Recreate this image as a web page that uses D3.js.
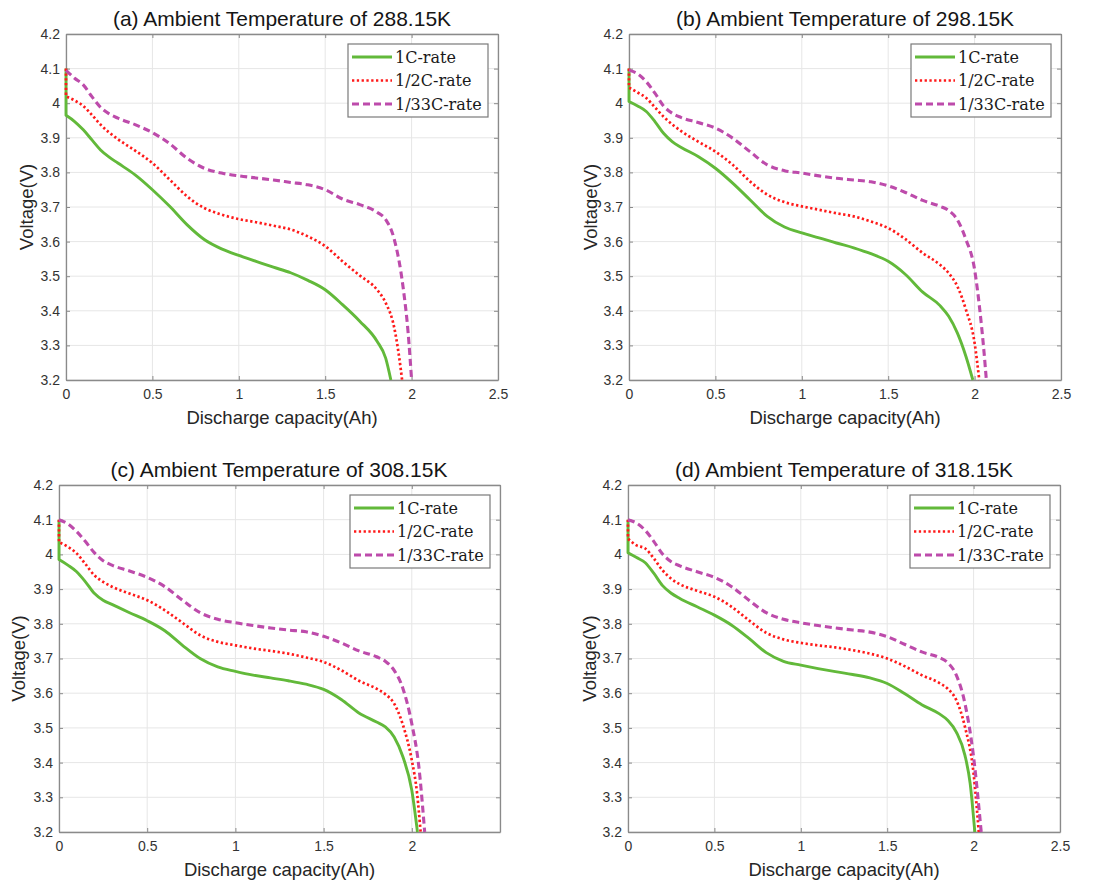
<!DOCTYPE html>
<html><head><meta charset="utf-8">
<script src="https://cdn.jsdelivr.net/npm/d3@7"></script>
<style>
html,body{margin:0;padding:0;background:#fff;}
svg{display:block;}
</style></head>
<body>
<script>
// ---------- DATA ----------
const xTicks = [0, 0.5, 1, 1.5, 2, 2.5];
const yTicks = [3.2, 3.3, 3.4, 3.5, 3.6, 3.7, 3.8, 3.9, 4.0, 4.1, 4.2];
const seriesNames = ["1C-rate", "1/2C-rate", "1/33C-rate"];
const panelTitles = [
  "(a) Ambient Temperature of 288.15K",
  "(b) Ambient Temperature of 298.15K",
  "(c) Ambient Temperature of 308.15K",
  "(d) Ambient Temperature of 318.15K"
];

// [discharge capacity (Ah), voltage (V)]
const a_1C = [[0,4.1],[0,3.965],[0.05,3.947],[0.1,3.923],[0.15,3.894],[0.2,3.865],[0.25,3.844],[0.3,3.827],[0.4,3.793],[0.5,3.75],[0.6,3.702],[0.7,3.649],[0.8,3.606],[0.9,3.579],[1.0,3.56],[1.1,3.543],[1.2,3.526],[1.3,3.51],[1.4,3.488],[1.5,3.461],[1.6,3.418],[1.7,3.37],[1.8,3.312],[1.85,3.263],[1.88,3.2]];
const a_half = [[0,4.1],[0,4.02],[0.05,4.008],[0.1,3.992],[0.15,3.966],[0.2,3.938],[0.3,3.896],[0.4,3.863],[0.5,3.827],[0.6,3.779],[0.7,3.731],[0.8,3.697],[0.9,3.678],[1.0,3.665],[1.1,3.656],[1.2,3.646],[1.3,3.635],[1.4,3.615],[1.5,3.587],[1.6,3.543],[1.7,3.502],[1.8,3.461],[1.85,3.423],[1.9,3.35],[1.93,3.259],[1.945,3.2]];
const a_33 = [[0,4.095],[0.05,4.072],[0.1,4.053],[0.15,4.019],[0.2,3.988],[0.25,3.969],[0.3,3.957],[0.4,3.938],[0.5,3.915],[0.6,3.883],[0.7,3.841],[0.8,3.812],[0.9,3.798],[1.0,3.79],[1.1,3.784],[1.2,3.778],[1.3,3.771],[1.4,3.764],[1.5,3.75],[1.6,3.723],[1.7,3.707],[1.8,3.685],[1.85,3.664],[1.9,3.606],[1.95,3.471],[1.98,3.336],[2.0,3.2]];

const b_1C = [[0,4.1],[0,4.005],[0.05,3.992],[0.1,3.976],[0.15,3.947],[0.2,3.913],[0.25,3.889],[0.3,3.873],[0.4,3.846],[0.5,3.812],[0.6,3.769],[0.7,3.721],[0.8,3.673],[0.9,3.642],[1.0,3.625],[1.1,3.611],[1.2,3.596],[1.3,3.582],[1.4,3.565],[1.5,3.543],[1.6,3.505],[1.7,3.454],[1.8,3.415],[1.85,3.384],[1.9,3.336],[1.95,3.268],[1.99,3.2]];
const b_half = [[0,4.1],[0,4.045],[0.05,4.031],[0.1,4.015],[0.15,3.988],[0.2,3.961],[0.3,3.92],[0.4,3.889],[0.5,3.86],[0.6,3.822],[0.7,3.774],[0.8,3.736],[0.9,3.714],[1.0,3.702],[1.1,3.692],[1.2,3.682],[1.3,3.673],[1.4,3.658],[1.5,3.639],[1.6,3.607],[1.7,3.567],[1.8,3.533],[1.85,3.509],[1.9,3.471],[1.95,3.403],[2.0,3.307],[2.027,3.2]];
const b_33 = [[0,4.095],[0.05,4.085],[0.1,4.062],[0.15,4.029],[0.2,3.992],[0.25,3.971],[0.3,3.959],[0.4,3.944],[0.5,3.928],[0.6,3.899],[0.7,3.86],[0.8,3.822],[0.9,3.805],[1.0,3.798],[1.1,3.79],[1.2,3.783],[1.3,3.778],[1.4,3.773],[1.5,3.761],[1.6,3.742],[1.7,3.719],[1.8,3.702],[1.85,3.69],[1.9,3.663],[1.95,3.606],[2.0,3.519],[2.03,3.403],[2.055,3.278],[2.068,3.2]];

const c_1C = [[0,4.1],[0,3.985],[0.05,3.969],[0.1,3.95],[0.15,3.921],[0.2,3.888],[0.25,3.868],[0.3,3.856],[0.4,3.832],[0.5,3.809],[0.6,3.78],[0.7,3.738],[0.8,3.7],[0.9,3.676],[1.0,3.663],[1.1,3.652],[1.2,3.644],[1.3,3.636],[1.4,3.626],[1.5,3.611],[1.6,3.582],[1.7,3.543],[1.8,3.517],[1.85,3.503],[1.9,3.474],[1.95,3.416],[2.0,3.32],[2.032,3.2]];
const c_half = [[0,4.1],[0,4.035],[0.05,4.022],[0.1,4.003],[0.15,3.972],[0.2,3.94],[0.25,3.921],[0.3,3.907],[0.4,3.887],[0.5,3.868],[0.6,3.839],[0.7,3.803],[0.8,3.767],[0.9,3.748],[1.0,3.738],[1.1,3.729],[1.2,3.722],[1.3,3.714],[1.4,3.703],[1.5,3.69],[1.6,3.666],[1.7,3.636],[1.8,3.613],[1.85,3.597],[1.9,3.57],[1.95,3.508],[2.0,3.407],[2.03,3.311],[2.05,3.2]];
const c_33 = [[0,4.1],[0.05,4.088],[0.1,4.066],[0.15,4.037],[0.2,4.005],[0.25,3.982],[0.3,3.969],[0.4,3.952],[0.5,3.934],[0.6,3.907],[0.7,3.868],[0.8,3.832],[0.9,3.813],[1.0,3.803],[1.1,3.795],[1.2,3.788],[1.3,3.782],[1.4,3.777],[1.5,3.764],[1.6,3.745],[1.7,3.722],[1.8,3.705],[1.85,3.692],[1.9,3.666],[1.95,3.613],[2.0,3.512],[2.04,3.388],[2.073,3.2]];

const d_1C = [[0,4.1],[0,4.005],[0.05,3.991],[0.1,3.976],[0.15,3.945],[0.2,3.91],[0.25,3.888],[0.3,3.873],[0.4,3.849],[0.5,3.825],[0.6,3.796],[0.7,3.758],[0.8,3.717],[0.9,3.692],[1.0,3.681],[1.1,3.671],[1.2,3.662],[1.3,3.654],[1.4,3.644],[1.5,3.628],[1.6,3.599],[1.7,3.567],[1.8,3.541],[1.85,3.522],[1.9,3.488],[1.95,3.421],[1.98,3.34],[2.007,3.2]];
const d_half = [[0,4.1],[0,4.045],[0.05,4.026],[0.1,4.017],[0.15,3.988],[0.2,3.954],[0.25,3.93],[0.3,3.914],[0.4,3.895],[0.5,3.878],[0.6,3.849],[0.7,3.81],[0.8,3.774],[0.9,3.755],[1.0,3.745],[1.1,3.738],[1.2,3.732],[1.3,3.724],[1.4,3.714],[1.5,3.7],[1.6,3.678],[1.7,3.652],[1.8,3.63],[1.85,3.613],[1.9,3.58],[1.95,3.503],[2.0,3.368],[2.03,3.2]];
const d_33 = [[0,4.1],[0.05,4.09],[0.1,4.069],[0.15,4.037],[0.2,4.001],[0.25,3.979],[0.3,3.967],[0.4,3.95],[0.5,3.934],[0.6,3.907],[0.7,3.868],[0.8,3.832],[0.9,3.813],[1.0,3.803],[1.1,3.795],[1.2,3.788],[1.3,3.782],[1.4,3.776],[1.5,3.763],[1.6,3.741],[1.7,3.719],[1.8,3.703],[1.85,3.688],[1.9,3.652],[1.95,3.57],[2.0,3.416],[2.044,3.2]];

const panelSeries = [
  [a_1C, a_half, a_33],
  [b_1C, b_half, b_33],
  [c_1C, c_half, c_33],
  [d_1C, d_half, d_33]
];

// ---------- LAYOUT / STYLE ----------
const W = 1112, H = 882;
const layout = [
  {l: 66,  r: 498,  t: 34,  b: 380, titleX: 282, ylabX: 33,  hide25: false},
  {l: 629, r: 1061, t: 34,  b: 380, titleX: 845, ylabX: 597, hide25: false},
  {l: 59,  r: 500,  t: 485, b: 832, titleX: 279, ylabX: 25,  hide25: true},
  {l: 628, r: 1060, t: 485, b: 832, titleX: 844, ylabX: 596, hide25: false}
];
const styles = [
  {color: "#62b93a", width: 2.9, dash: null},
  {color: "#ff1a1a", width: 2.7, dash: "2.3,2.5"},
  {color: "#bd4bab", width: 3.1, dash: "7,4"}
];
const axisColor = "#8a8a8a", gridColor = "#e6e6e6", tickTextColor = "#333";
const sans = "'Liberation Sans', Arial, sans-serif";

const svg = d3.select("body").append("svg").attr("width", W).attr("height", H);

layout.forEach((L, pi) => {
  const x = d3.scaleLinear().domain([0, 2.5]).range([L.l, L.r]);
  const y = d3.scaleLinear().domain([3.2, 4.2]).range([L.b, L.t]);
  const g = svg.append("g");

  // grid
  g.selectAll(".gx").data(xTicks).join("line")
    .attr("x1", d => x(d)).attr("x2", d => x(d)).attr("y1", L.t).attr("y2", L.b)
    .attr("stroke", gridColor).attr("stroke-width", 1);
  g.selectAll(".gy").data(yTicks).join("line")
    .attr("x1", L.l).attr("x2", L.r).attr("y1", d => y(d)).attr("y2", d => y(d))
    .attr("stroke", gridColor).attr("stroke-width", 1);

  // axes (inward ticks on all sides)
  const fmtX = d => (L.hide25 && d === 2.5) ? "" : d3.format("")(d);
  const fmtY = d => d3.format("")(+d.toFixed(1));
  const axB = g.append("g").attr("transform", `translate(0,${L.b})`)
    .call(d3.axisBottom(x).tickValues(xTicks).tickFormat(fmtX).tickSizeInner(-4).tickSizeOuter(0).tickPadding(9));
  const axT = g.append("g").attr("transform", `translate(0,${L.t})`)
    .call(d3.axisTop(x).tickValues(xTicks).tickFormat("").tickSizeInner(-4).tickSizeOuter(0));
  const axL = g.append("g").attr("transform", `translate(${L.l},0)`)
    .call(d3.axisLeft(y).tickValues(yTicks).tickFormat(fmtY).tickSizeInner(-4).tickSizeOuter(0).tickPadding(6));
  const axR = g.append("g").attr("transform", `translate(${L.r},0)`)
    .call(d3.axisRight(y).tickValues(yTicks).tickFormat("").tickSizeInner(-4).tickSizeOuter(0));
  [axB, axT, axL, axR].forEach(a => {
    a.select(".domain").attr("stroke", axisColor).attr("stroke-width", 1.3);
    a.selectAll(".tick line").attr("stroke", axisColor).attr("stroke-width", 1);
    a.selectAll(".tick text").attr("fill", tickTextColor).style("font-family", sans).style("font-size", "14px");
  });

  // title
  svg.append("text").attr("x", L.titleX).attr("y", L.t - 8).attr("text-anchor", "middle")
    .style("font-family", sans).style("font-size", "21px").attr("fill", "#151515")
    .text(panelTitles[pi]);
  // x label
  svg.append("text").attr("x", (L.l + L.r) / 2).attr("y", L.b + 44).attr("text-anchor", "middle")
    .style("font-family", sans).style("font-size", "18.5px").attr("fill", "#262626")
    .text("Discharge capacity(Ah)");
  // y label
  svg.append("text").attr("transform", `translate(${L.ylabX},${(L.t + L.b) / 2}) rotate(-90)`)
    .attr("text-anchor", "middle")
    .style("font-family", sans).style("font-size", "18.5px").attr("fill", "#262626")
    .text("Voltage(V)");

  // lines: initial vertical drop drawn straight, rest with a monotone curve
  const lineLin = d3.line().x(d => x(d[0])).y(d => y(d[1]));
  const lineMono = d3.line().x(d => x(d[0])).y(d => y(d[1])).curve(d3.curveMonotoneX);
  panelSeries[pi].forEach((s, si) => {
    const st = styles[si];
    let k = 0;
    while (k + 1 < s.length && s[k + 1][0] === s[0][0]) k++;
    let d = "";
    if (k > 0) d = lineLin(s.slice(0, k + 1)) + lineMono(s.slice(k)).replace(/^M/, "L");
    else d = lineMono(s);
    g.append("path").attr("d", d)
      .attr("fill", "none").attr("stroke", st.color).attr("stroke-width", st.width)
      .attr("stroke-dasharray", st.dash).attr("stroke-linejoin", "round");
  });

  // legend
  const lw = 140, lh = 73;
  const lx = L.r - 10 - lw, ly = L.t + 10;
  const lg = svg.append("g").attr("transform", `translate(${lx},${ly})`);
  lg.append("rect").attr("width", lw).attr("height", lh).attr("fill", "#fff")
    .attr("stroke", "#7a7a7a").attr("stroke-width", 1.2);
  seriesNames.forEach((nm, si) => {
    const st = styles[si];
    const cy = 13 + si * 23.5;
    lg.append("line").attr("x1", 4).attr("x2", 44).attr("y1", cy).attr("y2", cy)
      .attr("stroke", st.color).attr("stroke-width", st.width).attr("stroke-dasharray", st.dash);
    lg.append("text").attr("x", 47).attr("y", cy + 5.5)
      .style("font-family", "'DejaVu Serif', serif").style("font-size", "16px").attr("fill", "#1a1a1a")
      .text(nm);
  });
});
</script>
</body></html>
